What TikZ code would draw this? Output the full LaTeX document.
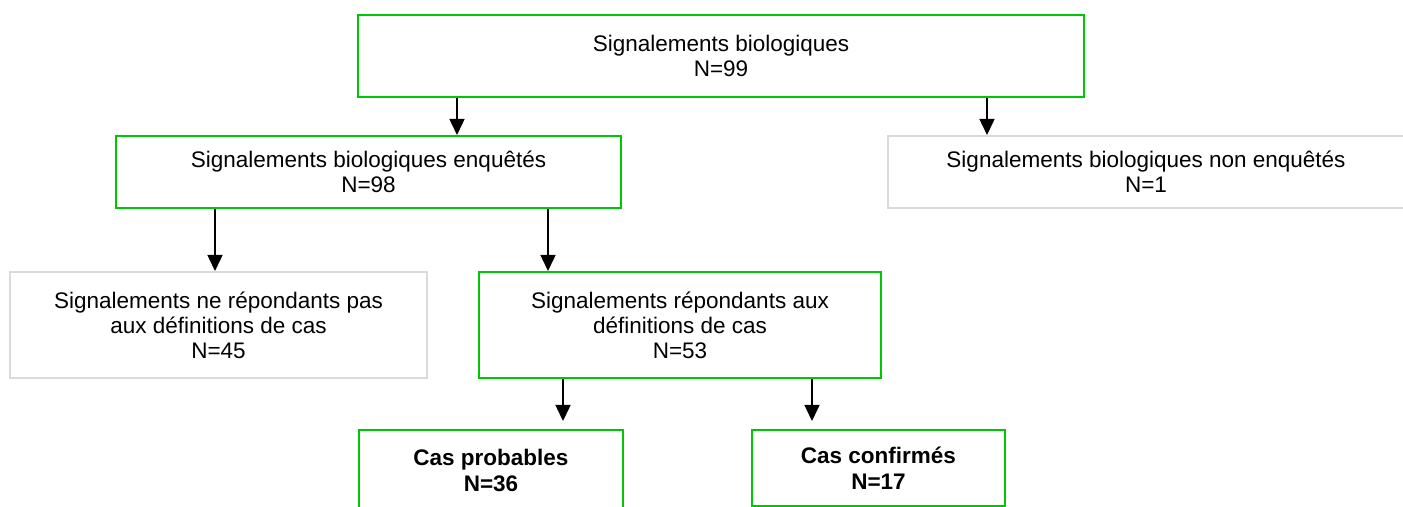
\documentclass[tikz,border=0pt]{standalone}
\usepackage{fontspec}
\setmainfont{Liberation Sans}
\usepackage{xcolor}
\usepackage{tikz}
\usetikzlibrary{calc,arrows.meta}
\definecolor{bg}{HTML}{FFFFFF}
\definecolor{okgreen}{HTML}{00C800}
\definecolor{offgray}{HTML}{DADADA}
\definecolor{ink}{HTML}{000000}
\tikzset{
  box/.style={draw=okgreen, line width=1pt, align=center, text=ink, inner sep=0pt, font=\fontsize{11.25}{12.5}\selectfont},
  boxg/.style={box, draw=offgray},
  boxb/.style={box, font=\fontsize{11.25}{13}\selectfont\bfseries},
  flow/.style={draw=ink, line width=0.75pt, -{Triangle[width=7.5pt,length=8pt]}},
}

\begin{document}
\begin{tikzpicture}[x=0.5pt, y=-0.5pt]
  \useasboundingbox (0,0) rectangle (1403,507);
  \fill[bg] (0,0) rectangle (1403,507);
  \clip (0,0) rectangle (1403,507);
  \node[box, minimum width=363pt, minimum height=41pt] (top) at (721,56) {Signalements biologiques\\N=99};
  \node[box, minimum width=252.5pt, minimum height=36pt] (enq) at (368.5,172) {Signalements biologiques enquêtés\\N=98};
  \node[boxg, minimum width=258pt, minimum height=36pt] (nonenq) at (1146,172) {Signalements biologiques non enquêtés\\N=1};
  \node[boxg, minimum width=208.5pt, minimum height=53pt] (nepas) at (218.5,325) {Signalements ne répondants pas\\aux définitions de cas\\N=45};
  \node[box, minimum width=201pt, minimum height=53pt] (rep) at (680,325) {Signalements répondants aux\\définitions de cas\\N=53};
  \node[boxb, minimum width=132pt, minimum height=40pt] (prob) at (491,470) {Cas probables\\N=36};
  \node[boxb, minimum width=126.5pt, minimum height=38pt] (conf) at (878.5,468) {Cas confirmés\\N=17};
  \draw[flow] ([xshift=44.25pt]enq.north |- top.south) -- ([xshift=44.25pt]enq.north);
  \draw[flow] ([xshift=-79.5pt]nonenq.north |- top.south) -- ([xshift=-79.5pt]nonenq.north);
  \draw[flow] ([xshift=-1.75pt]nepas.north |- enq.south) -- ([xshift=-1.75pt]nepas.north);
  \draw[flow] ([xshift=-66pt]rep.north |- enq.south) -- ([xshift=-66pt]rep.north);
  \draw[flow, shorten >=4pt] ([xshift=36pt]prob.north |- rep.south) -- ([xshift=36pt]prob.north);
  \draw[flow, shorten >=4pt] ([xshift=-33.25pt]conf.north |- rep.south) -- ([xshift=-33.25pt]conf.north);
\end{tikzpicture}
\end{document}
